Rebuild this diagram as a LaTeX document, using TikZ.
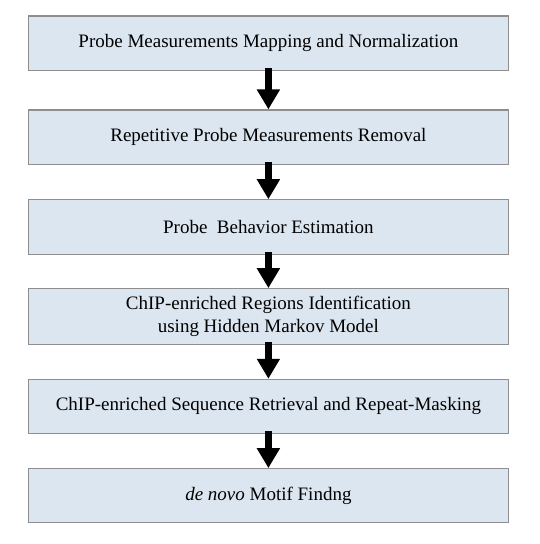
\documentclass[tikz,border=0pt]{standalone}
\usepackage{fontspec}
\setmainfont{Liberation Serif}
\usetikzlibrary{arrows.meta}
\definecolor{boxfill}{HTML}{DCE6F0}
\definecolor{boxline}{HTML}{8E8E8E}
\begin{document}
\begin{tikzpicture}[x=1pt,y=1pt,
  stepbox/.style={draw=boxline,line width=1.1pt,fill=boxfill,minimum width=480pt,minimum height=54.5pt,
    inner sep=0pt,align=center,font=\fontsize{19}{23.5}\selectfont},
  flow/.style={line width=6.5pt,-{Triangle[width=22pt,length=20pt]}}]
\useasboundingbox (0,0) rectangle (540,-544);
\node[stepbox] (b1) at (268.4,-43.2) {Probe Measurements Mapping and Normalization};
\node[stepbox] (b2) at (268.4,-137.2) {Repetitive Probe Measurements Removal};
\node[stepbox] (b3) at (268.4,-227) {Probe\ \ Behavior Estimation};
\node[stepbox,minimum height=55.6pt] (b4) at (268.4,-316.5) {ChIP-enriched Regions Identification\\using Hidden Markov Model};
\node[stepbox,minimum height=54pt] (b5) at (268.4,-406.3) {ChIP-enriched Sequence Retrieval and Repeat-Masking};
\node[stepbox,minimum height=54pt] (b6) at (268.4,-495.7) {\textit{de novo} Motif Findng};
\draw[flow] ([yshift=3pt]b1.south) -- (b2.north);
\draw[flow] ([yshift=3pt]b2.south) -- (b3.north);
\draw[flow] ([yshift=3pt]b3.south) -- (b4.north);
\draw[flow] ([yshift=3pt]b4.south) -- (b5.north);
\draw[flow] ([yshift=3pt]b5.south) -- (b6.north);
\end{tikzpicture}
\end{document}
